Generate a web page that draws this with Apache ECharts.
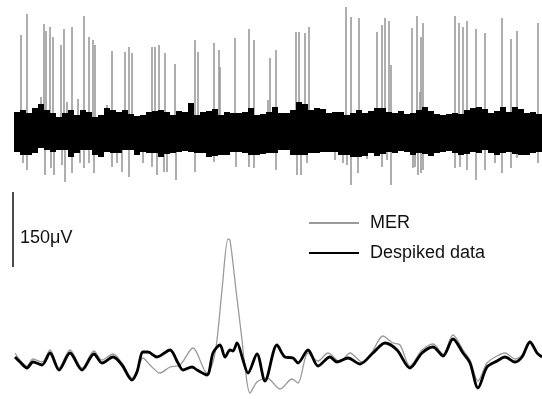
<!DOCTYPE html>
<html>
<head>
<meta charset="utf-8">
<script src="https://cdn.jsdelivr.net/npm/echarts@6/dist/echarts.min.js"></script>
<style>
  html, body { margin: 0; padding: 0; background: #fff; }
  #chart { width: 542px; height: 399px; }
</style>
</head>
<body>
<div id="chart"></div>
<script>
// time axis in ms, amplitudes in uV

// top trace: despiked band, drawn as upper/lower envelope per 6 ms bin
const bandStart = 14;
const bandBin = 6;
const bandUpper = [40, 44, 38, 48, 56, 44, 38, 30, 38, 44, 34, 44, 40, 30, 34, 48, 44, 40, 44, 36,
  32, 34, 40, 42, 44, 40, 34, 42, 40, 58, 34, 40, 42, 46, 34, 40, 38, 38, 40, 48,
  34, 36, 40, 50, 38, 38, 44, 60, 56, 44, 48, 46, 38, 40, 40, 34, 38, 44, 38, 42,
  48, 48, 40, 38, 42, 36, 38, 44, 50, 42, 36, 34, 36, 38, 36, 44, 48, 50, 46, 38,
  42, 50, 40, 50, 46, 38, 40, 36];
const bandLower = [-40, -46, -46, -42, -32, -36, -40, -36, -36, -50, -42, -36, -36, -46, -50, -40, -42, -42, -36, -36,
  -46, -40, -42, -42, -50, -44, -42, -40, -38, -40, -42, -42, -50, -48, -46, -46, -40, -40, -42, -46,
  -46, -44, -42, -42, -36, -36, -46, -46, -46, -42, -42, -40, -40, -40, -46, -46, -50, -50, -48, -42,
  -48, -44, -40, -42, -38, -40, -46, -42, -44, -48, -42, -40, -38, -42, -46, -44, -40, -42, -36, -42,
  -46, -42, -40, -44, -46, -46, -42, -40];

// raw MER spikes (upward peaks and downward troughs)
const spikeTimes = [21, 27, 41, 44, 46, 50, 53, 61, 64, 67, 72, 78, 84, 89, 93, 95, 107, 112, 125, 129,
  132, 152, 155, 159, 165, 175, 195, 198, 214, 219, 220, 235, 249, 254, 268, 270, 276, 296, 299, 305,
  309, 346, 351, 359, 377, 382, 385, 389, 391, 412, 417, 420, 421, 423, 455, 459, 463, 467, 476, 485,
  502, 511, 517, 538];
const spikePeaks = [194, 236, 70, 216, 202, 210, 190, 174, 206, 60, 210, 66, 232, 190, 184, 174, 54, 162, 160, 170,
  158, 170, 170, 174, 158, 136, 184, 160, 178, 164, 130, 188, 206, 184, 64, 148, 164, 200, 200, 198,
  210, 250, 230, 228, 200, 214, 228, 222, 134, 208, 232, 80, 190, 218, 232, 218, 210, 222, 206, 198,
  228, 186, 202, 218];
const dipTimes = [23, 27, 45, 51, 54, 62, 65, 72, 80, 84, 89, 94, 112, 117, 122, 129, 143, 152, 157, 164,
  167, 176, 195, 214, 236, 249, 254, 276, 297, 301, 307, 335, 343, 347, 351, 358, 367, 382, 387, 391,
  413, 415, 418, 421, 423, 455, 460, 467, 476, 485, 495, 502, 511, 517, 538];
const dipTroughs = [-62, -76, -86, -72, -86, -66, -100, -82, -62, -72, -62, -82, -70, -62, -80, -90, -62, -70, -86, -80,
  -80, -96, -80, -60, -70, -70, -72, -76, -86, -86, -62, -56, -62, -66, -106, -82, -54, -70, -56, -106,
  -72, -70, -86, -82, -76, -72, -70, -76, -96, -76, -62, -82, -72, -52, -62];

// bottom traces: low-pass filtered MER and despiked data
const merTimes = [15, 20, 27, 33, 42, 50, 59, 70, 82, 94, 102, 113, 122, 132, 137, 143, 150, 160, 170, 180,
  193, 207, 213, 217, 222, 228, 230, 236, 242, 245, 250, 257, 267, 280, 292, 298, 308, 318, 328, 340,
  350, 362, 372, 383, 393, 400, 410, 422, 433, 443, 453, 463, 470, 478, 487, 497, 505, 515, 522, 530,
  537, 542];
const merValues = [4, -10, -22, -8, -14, 10, -26, 10, -26, 8, -10, 2, -16, -46, -30, -6, -20, -36, -24, -20,
  14, -36, -14, 30, 130, 232, 230, 130, 30, -24, -76, -54, -46, -68, -48, -56, 4, -12, 4, -14,
  4, -14, 6, 38, 24, 20, -22, 10, 22, 2, 40, 10, -10, -52, -16, -2, 4, -8, 0, 28,
  6, -2];
const despikedTimes = [15, 20, 27, 33, 42, 50, 59, 70, 82, 94, 102, 113, 122, 132, 137, 143, 148, 157, 170, 178,
  183, 192, 197, 207, 213, 220, 225, 230, 233, 237, 243, 248, 257, 265, 277, 285, 293, 298, 308, 318,
  330, 337, 348, 360, 373, 385, 397, 410, 422, 433, 443, 453, 463, 470, 478, 487, 497, 505, 515, 522,
  530, 537, 542];
const despikedValues = [-4, -14, -26, -14, -20, 4, -30, 4, -30, 2, -16, -4, -20, -50, -34, 6, 6, -4, 10, -16,
  -30, -24, -30, -40, 4, 20, -4, 10, 8, 24, -10, -36, 2, -52, 20, -4, -6, -16, 10, -22,
  -4, -14, -6, -18, 4, 24, 10, -26, 4, 16, -2, 32, 4, -16, -66, -24, -12, -4, -14, -4,
  26, 4, -4];

// scale bar
const scaleBarTime = 13;
const scaleBarRange = [176, 326];
const scaleBarLabel = '150\u03bcV';

const chart = echarts.init(document.getElementById('chart'));

const zip = (xs, ys) => xs.map((x, i) => [x, ys[i]]);
const bandData = bandUpper.map((hi, i) => [bandStart + i * bandBin, bandLower[i], hi]);
const spikeData = zip(spikeTimes, spikePeaks).concat(zip(dipTimes, dipTroughs));

function renderBand(params, api) {
  const p1 = api.coord([api.value(0), api.value(2)]);
  const p2 = api.coord([api.value(0) + bandBin, api.value(1)]);
  return {
    type: 'rect',
    shape: { x: p1[0], y: p1[1], width: p2[0] - p1[0], height: p2[1] - p1[1] },
    style: { fill: '#000' }
  };
}

function renderSpike(params, api) {
  const p1 = api.coord([api.value(0), 0]);
  const p2 = api.coord([api.value(0), api.value(1)]);
  return {
    type: 'line',
    shape: { x1: p1[0], y1: p1[1], x2: p2[0], y2: p2[1] },
    style: { stroke: '#9a9a9a', lineWidth: 1.6 }
  };
}

chart.setOption({
  animation: false,
  backgroundColor: '#fff',
  grid: [
    { left: 0, top: 0, width: 542, height: 200 },
    { left: 0, top: 180, width: 542, height: 219 }
  ],
  xAxis: [
    { gridIndex: 0, type: 'value', min: 0, max: 542, show: false },
    { gridIndex: 1, type: 'value', min: 0, max: 542, show: false }
  ],
  yAxis: [
    { gridIndex: 0, type: 'value', min: -136, max: 264, show: false },
    { gridIndex: 1, type: 'value', min: -88, max: 350, show: false }
  ],
  legend: {
    data: ['MER', 'Despiked data'],
    orient: 'vertical',
    left: 303,
    top: 209,
    itemWidth: 50,
    itemHeight: 16,
    itemGap: 12,
    itemStyle: { opacity: 0 },
    textStyle: { fontFamily: 'Liberation Sans', fontSize: 18, color: '#111', padding: [0, 0, 0, 6] }
  },
  graphic: [
    {
      type: 'text',
      left: 20,
      top: 229,
      style: { text: scaleBarLabel, fontFamily: 'Liberation Sans', fontSize: 18, fill: '#111' }
    }
  ],
  series: [
    {
      name: 'spikes',
      type: 'custom',
      xAxisIndex: 0,
      yAxisIndex: 0,
      renderItem: renderSpike,
      data: spikeData,
      z: 1
    },
    {
      name: 'band',
      type: 'custom',
      xAxisIndex: 0,
      yAxisIndex: 0,
      renderItem: renderBand,
      data: bandData,
      z: 2
    },
    {
      name: 'MER',
      type: 'line',
      xAxisIndex: 1,
      yAxisIndex: 1,
      data: zip(merTimes, merValues),
      symbol: 'none',
      smooth: 0.3,
      lineStyle: { color: '#9a9a9a', width: 1.3 },
      itemStyle: { color: '#9a9a9a' },
      z: 3
    },
    {
      name: 'Despiked data',
      type: 'line',
      xAxisIndex: 1,
      yAxisIndex: 1,
      data: zip(despikedTimes, despikedValues),
      symbol: 'none',
      smooth: 0.3,
      lineStyle: { color: '#000', width: 2.8 },
      itemStyle: { color: '#000' },
      z: 4
    },
    {
      name: 'scale',
      type: 'line',
      xAxisIndex: 1,
      yAxisIndex: 1,
      data: scaleBarRange.map(v => [scaleBarTime, v]),
      symbol: 'none',
      lineStyle: { color: '#111', width: 1.5 },
      z: 5
    }
  ]
});
</script>
</body>
</html>
